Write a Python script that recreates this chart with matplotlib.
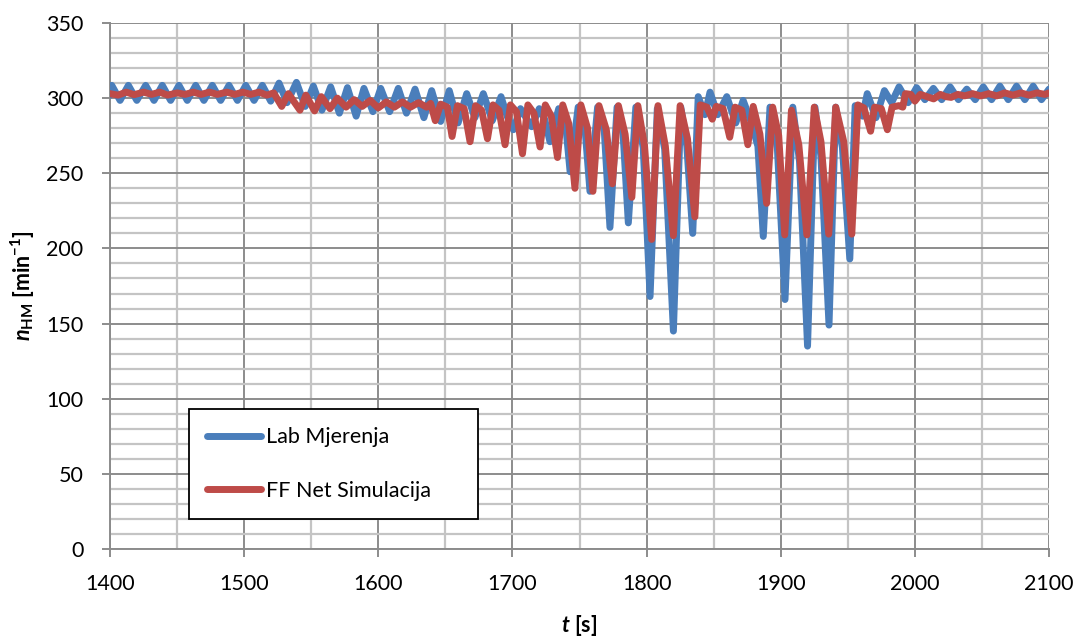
import matplotlib
matplotlib.use("Agg")
import matplotlib.pyplot as plt
from matplotlib.ticker import MultipleLocator

# ---------------- data ----------------
blue_t = [1400, 1401.3, 1407.5, 1413.7, 1420, 1426.6, 1432.8, 1439, 1445.2, 1451.4, 1457.6,
          1463.9, 1470, 1476.3, 1482.5, 1488.7, 1495, 1501.2, 1507.4, 1513.6, 1519.8,
          1526, 1532, 1539, 1545.5, 1551.6, 1558, 1564.5, 1571, 1577, 1583.5, 1589.3,
          1596, 1601.8, 1608.5, 1614.9, 1621, 1627.4, 1634, 1639.8, 1646.5, 1652.9,
          1659.5, 1665.9, 1672, 1678.3, 1685, 1691.5, 1696, 1700.7, 1706, 1714.3, 1720,
          1724, 1728, 1734.5, 1739.5, 1743, 1749, 1754, 1757.8, 1763.5, 1768.5, 1772.7,
          1778, 1782.5, 1786.4, 1792, 1797.5, 1802.6, 1808, 1813.5, 1820, 1825.5, 1830,
          1834.4, 1838.5, 1843.5, 1847.3, 1853, 1859.8, 1866.5, 1872, 1878, 1883, 1887,
          1892, 1897.5, 1903.2, 1909, 1914, 1920, 1925.5, 1930, 1936, 1941, 1946, 1951.5,
          1955.5, 1961, 1964.5, 1971, 1977.3, 1982.7, 1988.2, 1995, 2001.3, 2007.5,
          2013.8, 2020, 2026.3, 2032.5, 2038.7, 2045, 2051, 2057.2, 2063.4, 2069.6,
          2075.8, 2082, 2088.2, 2094.4, 2100]
blue_v = [302, 308.5, 298.5, 308.5, 298.5, 308.5, 298.5, 308.5, 298.5, 308.5, 298.5,
          308.5, 298.5, 308.5, 298.5, 308.5, 298.5, 308.5, 298.5, 308.5, 298,
          310, 297, 310.5, 294.5, 308, 292, 307.5, 290, 307, 288, 306.5,
          291, 306.5, 291, 306.5, 290, 306, 287, 305, 284.5, 305,
          283.5, 303, 287, 303, 285, 301, 288, 279, 293, 281, 293,
          286, 271, 293, 284, 251, 294, 281, 238, 294, 278, 214,
          294, 276, 217, 294, 267, 168, 293, 266, 145, 294, 268,
          210, 301, 289, 304, 289, 301, 283.5, 298.5, 284, 268, 208,
          294, 267, 166, 294, 258, 135, 294, 261, 149, 294, 267, 193,
          295, 288, 303, 287, 305, 297, 307.5, 297, 307, 299,
          306.5, 299, 307.5, 299, 306, 299, 307.5, 299, 308, 299,
          308, 299, 308, 299, 306]

red_t = [1400, 1406, 1412, 1418, 1425, 1431, 1437, 1443, 1450, 1456, 1462, 1468, 1474,
         1480, 1487, 1493, 1499, 1505, 1511, 1517, 1522, 1528, 1533, 1541.6, 1546,
         1552.5, 1557.5, 1564, 1569.5, 1576, 1582, 1588, 1594, 1600, 1606, 1612, 1618,
         1624, 1630, 1636, 1639, 1642.5, 1646.5, 1651.5, 1655, 1659, 1664, 1668.4,
         1672.5, 1677, 1681.4, 1685.5, 1690, 1694.5, 1698.5, 1703, 1707.5, 1711.5, 1716,
         1720.6, 1724.5, 1729, 1733.6, 1737.5, 1742, 1746.6, 1751, 1756, 1760, 1764.5,
         1770, 1774.5, 1779, 1784, 1789, 1793.5, 1798.5, 1803.8, 1808.5, 1814, 1820,
         1825, 1830.5, 1836, 1840, 1845, 1849, 1852, 1857, 1862, 1866, 1871, 1875.5,
         1879.5, 1884.5, 1889.5, 1894, 1898.5, 1903, 1908, 1913.5, 1919.5, 1925, 1930,
         1935.8, 1941, 1947, 1953, 1957.5, 1962, 1967, 1970, 1975, 1979.5, 1983, 1988,
         1991, 1993, 1997, 2000, 2004, 2009, 2014, 2019, 2023, 2027, 2032, 2037, 2043,
         2049, 2055, 2061, 2067, 2073, 2079, 2085, 2091, 2097, 2100]
red_v = [303, 302, 304, 302.3, 304, 302.5, 304, 302, 303.5, 302.5, 304, 302.5, 304,
         302.5, 304, 302.5, 304, 302.5, 304, 302, 303.5, 294.5, 303, 292, 302,
         291.5, 301, 293, 300, 294, 299, 294.5, 298.5, 293.5, 297.5, 294, 297.5,
         294, 297, 294, 296.5, 285, 296, 294, 274.5, 295, 293, 271,
         295, 292, 273, 295.5, 292, 269, 295.5, 291, 263, 295.5, 290,
         267.5, 295.5, 288, 260.5, 295.5, 283, 240, 295.5, 280, 238, 295,
         279, 243, 295, 276, 234, 295, 268, 206, 295, 268, 208.5,
         295, 273, 221, 295.5, 294, 286, 294.5, 293, 274, 294, 292, 269,
         294.5, 276, 230, 294, 275, 209, 292, 269, 209, 294, 271,
         209.5, 294, 271, 209.5, 295.5, 293.5, 278, 294, 293, 279, 294, 295,
         294, 303, 302.5, 298, 302.5, 301, 299.5, 302.5, 301, 300.5, 302.5, 301.5, 303,
         301.5, 303, 301.5, 303.5, 302, 303.5, 302, 303.5, 302.5, 303.5]

series_labels = ["Lab Mjerenja", "FF Net Simulacija"]
x_ticks = [1400, 1500, 1600, 1700, 1800, 1900, 2000, 2100]
y_ticks = [0, 50, 100, 150, 200, 250, 300, 350]

# ---------------- style ----------------
FONT = "Lato"
plt.rcParams["font.family"] = [FONT, "DejaVu Sans"]
plt.rcParams["mathtext.fontset"] = "custom"
plt.rcParams["mathtext.rm"] = FONT + ":bold"
plt.rcParams["mathtext.it"] = FONT + ":bold:italic"
plt.rcParams["mathtext.bf"] = FONT + ":bold"

BLUE = "#4A7EBB"
RED = "#BE4B48"
MAJOR = "#8C8C8C"
MINOR = "#C4C4C4"
FS = 15.5

fig = plt.figure(figsize=(10.82, 6.40), dpi=100)
ax = fig.add_axes([110 / 1082, 1 - 549 / 640, 939 / 1082, 526 / 640])

ax.plot(blue_t, blue_v, color=BLUE, lw=5.0, solid_joinstyle="round",
        solid_capstyle="round", label=series_labels[0], zorder=3)
ax.plot(red_t, red_v, color=RED, lw=5.0, solid_joinstyle="round",
        solid_capstyle="round", label=series_labels[1], zorder=4)

ax.set_xlim(1400, 2100)
ax.set_ylim(0, 350)
ax.set_xticks(x_ticks)
ax.set_yticks(y_ticks)
ax.xaxis.set_minor_locator(MultipleLocator(50))
ax.yaxis.set_minor_locator(MultipleLocator(10))
ax.grid(which="minor", color=MINOR, lw=1.6, zorder=0)
ax.grid(which="major", color=MAJOR, lw=1.4, zorder=1)
ax.set_axisbelow(True)

for s in ["top", "right"]:
    ax.spines[s].set_visible(False)
for s in ["left", "bottom"]:
    ax.spines[s].set_color(MAJOR)
    ax.spines[s].set_linewidth(1.4)

ax.tick_params(which="major", length=6, width=1.4, color=MAJOR, labelsize=FS)
ax.tick_params(axis="x", which="major", pad=12)
ax.tick_params(axis="y", which="major", pad=13)
ax.tick_params(which="minor", length=0)

ax.set_xlabel(r"$t$ [s]", fontsize=FS, fontweight="bold", labelpad=14)
ax.set_ylabel(r"$n_{\rm HM}$ [min$^{-1}$]", fontsize=FS, fontweight="bold",
              labelpad=7)

leg = ax.legend(loc="upper left",
                bbox_to_anchor=(79 / 939, 32 / 526, 289 / 939, 108 / 526),
                mode="expand", borderaxespad=0, fontsize=FS, frameon=True,
                fancybox=False, handlelength=2.5, handletextpad=0.25,
                labelspacing=1.55, borderpad=0.85)
leg.get_frame().set_edgecolor("black")
leg.get_frame().set_linewidth(1.3)
leg.get_frame().set_alpha(1)

fig.savefig("out.png", dpi=100)
